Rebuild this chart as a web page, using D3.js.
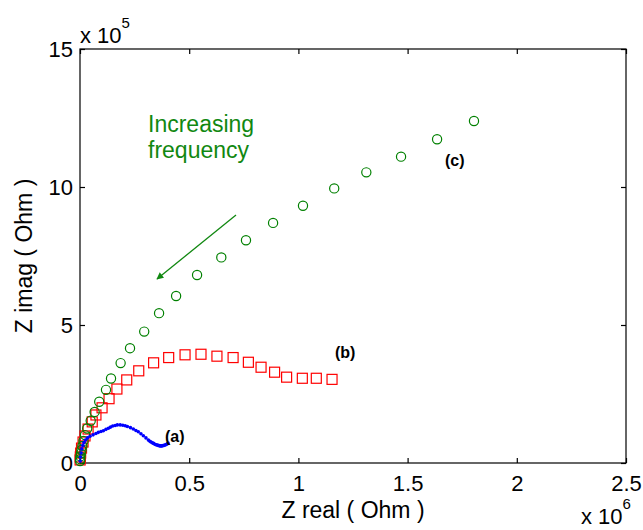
<!DOCTYPE html>
<html>
<head>
<meta charset="utf-8">
<script src="https://cdn.jsdelivr.net/npm/d3@7"></script>
<style>
  body { margin: 0; background: #fff; }
  text { font-family: Arial, "Liberation Sans", sans-serif; }
</style>
</head>
<body>
<script>
// x values in units of 1e6 Ohm, y values in units of 1e5 Ohm
const xTicks = [0, 0.5, 1, 1.5, 2, 2.5];
const yTicks = [0, 5, 10, 15];

// (a) blue dotted curve
const aX = [0.001, 0.002, 0.005, 0.008, 0.013, 0.018, 0.025, 0.034, 0.046, 0.060, 0.073, 0.084, 0.096,
            0.107, 0.119, 0.130, 0.140, 0.150, 0.161, 0.171, 0.184, 0.196, 0.207, 0.217, 0.231, 0.244,
            0.256, 0.267, 0.279, 0.290, 0.302, 0.313, 0.320, 0.325, 0.331, 0.337, 0.343, 0.348, 0.353,
            0.357, 0.362, 0.366, 0.371, 0.375, 0.380, 0.385, 0.390, 0.394, 0.399, 0.403];
const aY = [0.07, 0.22, 0.36, 0.51, 0.63, 0.74, 0.83, 0.91, 0.97, 1.02, 1.07, 1.11, 1.14,
            1.17, 1.22, 1.26, 1.30, 1.34, 1.36, 1.38, 1.38, 1.37, 1.35, 1.32, 1.28, 1.23,
            1.18, 1.13, 1.06, 0.99, 0.91, 0.83, 0.79, 0.76, 0.73, 0.71, 0.68, 0.66, 0.65,
            0.64, 0.63, 0.62, 0.62, 0.62, 0.63, 0.64, 0.65, 0.67, 0.69, 0.72];

// (b) red squares
const bX = [1.154, 1.082, 1.018, 0.946, 0.891, 0.829, 0.771, 0.701, 0.627, 0.554, 0.481, 0.406, 0.337,
            0.269, 0.214, 0.169, 0.133, 0.101, 0.073, 0.056, 0.037, 0.023, 0.014, 0.007, 0.003, 0.0014, 0.0005];
const bY = [3.03, 3.07, 3.07, 3.11, 3.29, 3.47, 3.65, 3.82, 3.87, 3.94, 3.92, 3.82, 3.63,
            3.34, 3.01, 2.68, 2.33, 2.00, 1.74, 1.49, 1.23, 0.98, 0.76, 0.54, 0.36, 0.22, 0.11];

// (c) green circles
const cX = [1.804, 1.635, 1.470, 1.311, 1.164, 1.021, 0.884, 0.760, 0.647, 0.536, 0.440, 0.362, 0.294,
            0.229, 0.186, 0.142, 0.119, 0.088, 0.067, 0.049, 0.033, 0.023, 0.016, 0.011, 0.007, 0.004,
            0.002, 0.001, 0.0002];
const cY = [12.39, 11.73, 11.10, 10.53, 9.95, 9.32, 8.70, 8.07, 7.45, 6.81, 6.05, 5.43, 4.76,
            4.16, 3.62, 3.06, 2.65, 2.22, 1.85, 1.53, 1.25, 1.01, 0.80, 0.62, 0.47, 0.34,
            0.24, 0.14, 0.07];

const W = 643, H = 530;
const mLeft = 80, mRight = 626, mTop = 49, mBottom = 463;

const svg = d3.select('body').append('svg')
    .attr('width', W)
    .attr('height', H);

const x = d3.scaleLinear().domain([0, 2.5]).range([mLeft, mRight]);
const y = d3.scaleLinear().domain([0, 15]).range([mBottom, mTop]);

// box
svg.append('rect')
    .attr('x', mLeft).attr('y', mTop)
    .attr('width', mRight - mLeft).attr('height', mBottom - mTop)
    .attr('fill', 'none').attr('stroke', '#000').attr('stroke-width', 1.2);

const fmt = d => String(d);

svg.append('g')
    .attr('transform', `translate(0,${mBottom})`)
    .call(d3.axisBottom(x).tickValues(xTicks).tickFormat(fmt).tickSize(-5).tickPadding(12));
svg.append('g')
    .attr('transform', `translate(0,${mTop})`)
    .call(d3.axisTop(x).tickValues(xTicks).tickFormat('').tickSize(-5));
svg.append('g')
    .attr('transform', `translate(${mLeft},0)`)
    .call(d3.axisLeft(y).tickValues(yTicks).tickFormat(fmt).tickSize(-5).tickPadding(7));
svg.append('g')
    .attr('transform', `translate(${mRight},0)`)
    .call(d3.axisRight(y).tickValues(yTicks).tickFormat('').tickSize(-5));

svg.selectAll('.domain').remove();
svg.selectAll('.tick line').attr('stroke', '#000').attr('stroke-width', 1.2);
svg.selectAll('.tick text')
    .attr('font-family', 'Arial, "Liberation Sans", sans-serif')
    .attr('font-size', 22)
    .attr('fill', '#000');

// data marks
const ptsA = aX.map((v, i) => [v, aY[i]]);
const ptsB = bX.map((v, i) => [v, bY[i]]);
const ptsC = cX.map((v, i) => [v, cY[i]]);

svg.append('g').selectAll('rect')
    .data(ptsB)
    .enter()
        .append('rect')
            .attr('x', d => x(d[0]) - 5)
            .attr('y', d => y(d[1]) - 5)
            .attr('width', 10)
            .attr('height', 10)
            .attr('fill', 'none')
            .attr('stroke', '#ff0000')
            .attr('stroke-width', 1.2);

svg.append('g').selectAll('circle')
    .data(ptsC)
    .enter()
        .append('circle')
            .attr('cx', d => x(d[0]))
            .attr('cy', d => y(d[1]))
            .attr('r', 4.6)
            .attr('fill', 'none')
            .attr('stroke', '#008000')
            .attr('stroke-width', 1.2);

svg.append('g').selectAll('circle')
    .data(ptsA)
    .enter()
        .append('circle')
            .attr('cx', d => x(d[0]))
            .attr('cy', d => y(d[1]))
            .attr('r', 1.8)
            .attr('fill', '#0000ff');

// exponent labels
const e5 = svg.append('text').attr('x', 80).attr('y', 43).attr('font-size', 22);
e5.append('tspan').text('x 10');
e5.append('tspan').attr('font-size', 15).attr('dy', -15).text('5');

const e6 = svg.append('text').attr('x', 581).attr('y', 524).attr('font-size', 22);
e6.append('tspan').text('x 10');
e6.append('tspan').attr('font-size', 15).attr('dy', -15).text('6');

// axis titles
svg.append('text')
    .attr('x', (mLeft + mRight) / 2).attr('y', 518)
    .attr('text-anchor', 'middle')
    .attr('font-size', 23)
    .text('Z real ( Ohm )');

svg.append('text')
    .attr('transform', `translate(32,${(mTop + mBottom) / 2}) rotate(-90)`)
    .attr('text-anchor', 'middle')
    .attr('font-size', 23)
    .text('Z imag ( Ohm )');

// series labels
svg.append('text').attr('x', 165).attr('y', 442).attr('font-size', 16).attr('font-weight', 'bold').text('(a)');
svg.append('text').attr('x', 335).attr('y', 358).attr('font-size', 16).attr('font-weight', 'bold').text('(b)');
svg.append('text').attr('x', 445).attr('y', 166).attr('font-size', 16).attr('font-weight', 'bold').text('(c)');

// annotation
svg.append('text').attr('x', 148).attr('y', 132).attr('font-size', 23).attr('fill', '#118811').text('Increasing');
svg.append('text').attr('x', 148).attr('y', 158).attr('font-size', 23).attr('fill', '#118811').text('frequency');

svg.append('defs').append('marker')
    .attr('id', 'head')
    .attr('viewBox', '0 0 10 10')
    .attr('refX', 9).attr('refY', 5)
    .attr('markerWidth', 9).attr('markerHeight', 7)
    .attr('markerUnits', 'userSpaceOnUse')
    .attr('orient', 'auto')
    .append('path')
        .attr('d', 'M0,0 L10,5 L0,10 z')
        .attr('fill', '#118811');

svg.append('line')
    .attr('x1', 236).attr('y1', 215)
    .attr('x2', 157).attr('y2', 279)
    .attr('stroke', '#118811')
    .attr('stroke-width', 1.3)
    .attr('marker-end', 'url(#head)');
</script>
</body>
</html>
